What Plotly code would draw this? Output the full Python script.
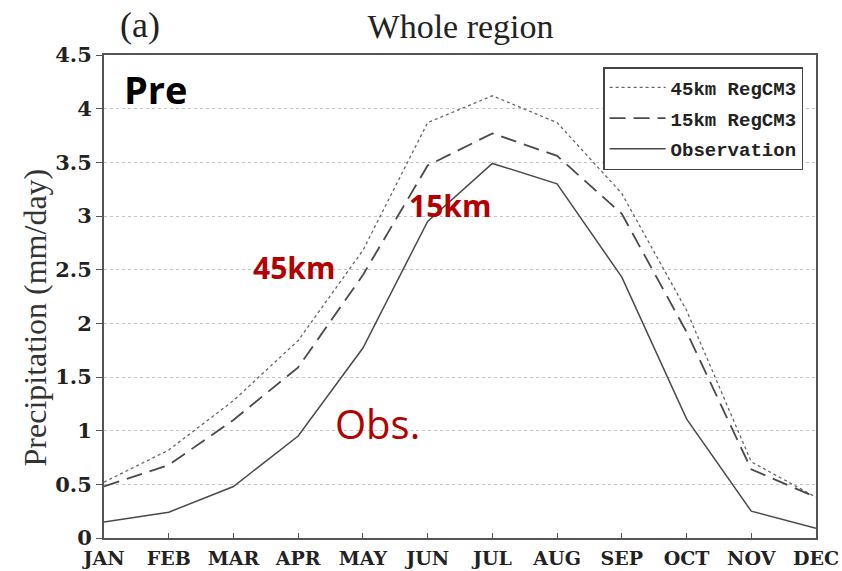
import plotly.graph_objects as go

months = ["JAN", "FEB", "MAR", "APR", "MAY", "JUN", "JUL", "AUG", "SEP", "OCT", "NOV", "DEC"]
km45 = [0.52, 0.82, 1.28, 1.84, 2.68, 3.87, 4.12, 3.87, 3.21, 2.12, 0.71, 0.38]
km15 = [0.48, 0.68, 1.10, 1.59, 2.45, 3.47, 3.77, 3.56, 3.02, 1.92, 0.64, 0.38]
obs = [0.15, 0.24, 0.48, 0.95, 1.77, 2.95, 3.49, 3.30, 2.43, 1.11, 0.25, 0.09]
yticks = [0, 0.5, 1, 1.5, 2, 2.5, 3, 3.5, 4, 4.5]
ylabels = ["0", "0.5", "1", "1.5", "2", "2.5", "3", "3.5", "4", "4.5"]

x = list(range(len(months)))
lc = "#4a4a4a"

fig = go.Figure()
fig.add_trace(go.Scatter(x=x, y=km45, mode="lines", name="45km RegCM3", legendgroup="g1",
                         line=dict(color="#666666", width=1.3, dash="dot")))
fig.add_trace(go.Scatter(x=x, y=km15, mode="lines", name="15km RegCM3", legendgroup="g2",
                         line=dict(color=lc, width=1.8, dash="16px,8px")))
fig.add_trace(go.Scatter(x=x, y=obs, mode="lines", name="Observation", legendgroup="g3",
                         line=dict(color=lc, width=1.5)))

fig.update_layout(
    width=842, height=571,
    margin=dict(l=104, r=26, t=55, b=33),
    paper_bgcolor="white", plot_bgcolor="white",
    showlegend=True,
    legend=dict(x=0.701, y=0.975, xanchor="left", yanchor="top",
                bgcolor="white", bordercolor="#444444", borderwidth=1.5,
                font=dict(family="Liberation Mono", size=19, color="#222222", weight="bold"),
                tracegroupgap=3, itemwidth=56),
    title=dict(text="Whole region", x=0.547, xanchor="center", y=0.955, yanchor="middle",
               font=dict(family="Liberation Serif", size=34, color="#222222")),
    xaxis=dict(range=[0, 11], tickmode="array", tickvals=x, ticktext=months,
               showgrid=False, zeroline=False, automargin=False,
               showline=True, linecolor="#555555", linewidth=2, mirror=True,
               ticks="inside", ticklen=5, tickcolor="#555555", ticklabelstandoff=2,
               tickfont=dict(family="DejaVu Serif", size=19, color="#222222", weight="bold")),
    yaxis=dict(range=[0, 4.5], tickmode="array", tickvals=yticks, ticktext=ylabels,
               showgrid=True, gridcolor="#c4c4c4", griddash="dot", gridwidth=1.2,
               zeroline=False, automargin=False,
               showline=True, linecolor="#555555", linewidth=2, mirror=True,
               ticks="outside", ticklen=6, tickcolor="#555555",
               tickfont=dict(family="DejaVu Serif", size=21, color="#222222", weight="bold")),
)

fig.add_annotation(text="Precipitation (mm/day)", xref="paper", yref="paper",
                   x=-0.097, y=0.4565, xanchor="center", yanchor="middle", textangle=-90,
                   showarrow=False,
                   font=dict(family="Liberation Serif", size=32, color="#333333"))
fig.add_annotation(text="(a)", xref="paper", yref="paper", x=0.05, y=1.063,
                   xanchor="center", yanchor="middle", showarrow=False,
                   font=dict(family="Liberation Serif", size=36, color="#222222"))
fig.add_annotation(text="<b>Pre</b>", xref="paper", yref="paper", x=0.025, y=0.93,
                   xanchor="left", yanchor="middle", showarrow=False,
                   font=dict(family="Open Sans", size=38, color="black"))
red = "#b30000"
fig.add_annotation(text="<b>45km</b>", xref="paper", yref="paper", x=0.206, y=0.561,
                   xanchor="left", yanchor="middle", showarrow=False,
                   font=dict(family="Open Sans", size=30, color=red))
fig.add_annotation(text="<b>15km</b>", xref="paper", yref="paper", x=0.425, y=0.689,
                   xanchor="left", yanchor="middle", showarrow=False,
                   font=dict(family="Open Sans", size=30, color=red))
fig.add_annotation(text="Obs.", xref="paper", yref="paper", x=0.322, y=0.238,
                   xanchor="left", yanchor="middle", showarrow=False,
                   font=dict(family="Open Sans", size=40, color=red))

fig.write_html("out.html")
